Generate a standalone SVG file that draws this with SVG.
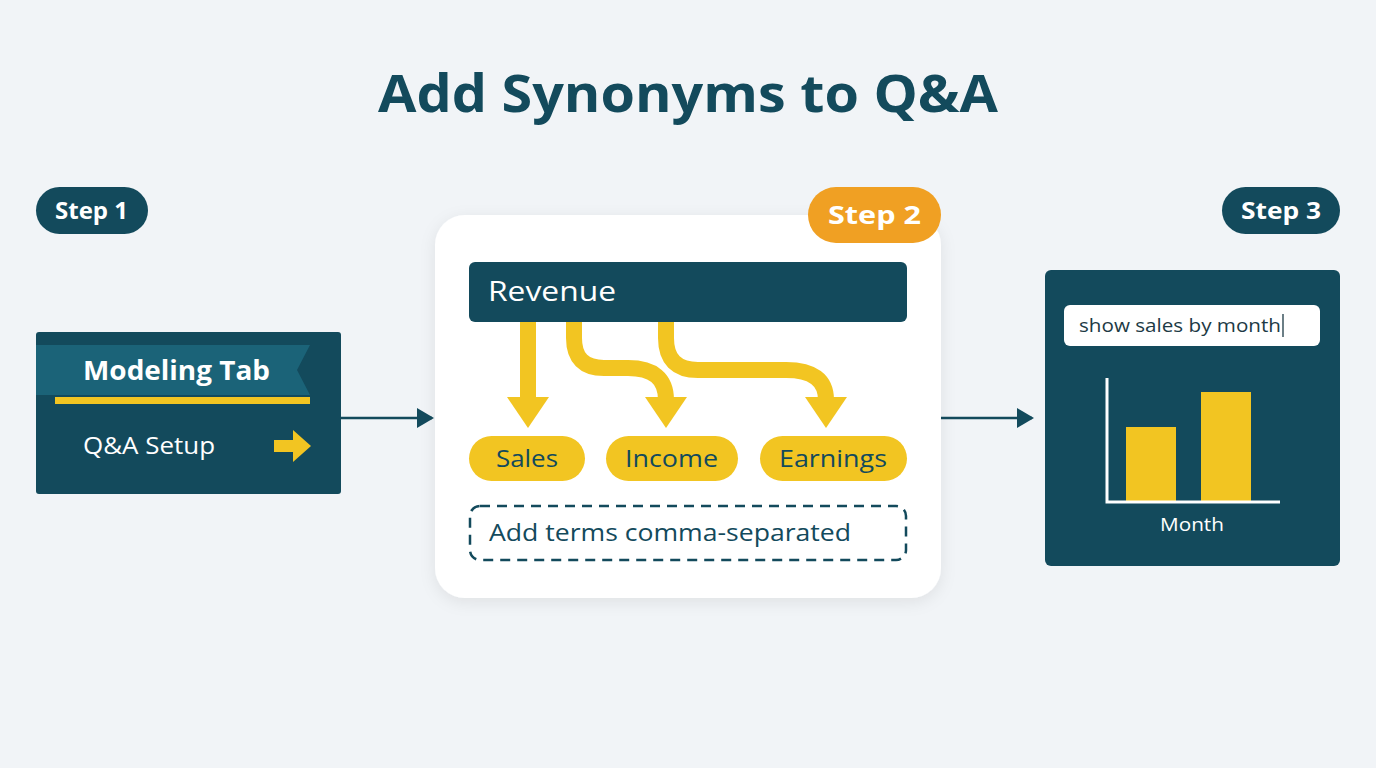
<svg xmlns="http://www.w3.org/2000/svg" width="1376" height="768" viewBox="0 0 1376 768">
<defs>
<style>
.t{font-family:"Open Sans","Noto Sans","Liberation Sans",sans-serif}
.b{font-weight:700}
.teal{fill:#134a5c}
.wt{fill:#ffffff}
.yel{fill:#f2c522}
.ya{fill:none;stroke:#f2c522;stroke-width:16}
.conn{stroke:#134a5c;stroke-width:2.5;fill:none}
</style>
<marker id="ah" markerWidth="17" markerHeight="20" refX="15" refY="10" orient="auto" markerUnits="userSpaceOnUse" viewBox="0 0 17 20">
<path d="M0,0 L17,10 L0,20 Z" fill="#134a5c"/>
</marker>
<filter id="sh" x="-10%" y="-10%" width="120%" height="130%">
<feDropShadow dx="0" dy="4" stdDeviation="8" flood-color="#000" flood-opacity="0.08"/>
</filter>
</defs>
<rect width="1376" height="768" fill="#f1f4f7"/>
<text id="title" class="t b teal" x="378" y="112" font-size="52" textLength="620" lengthAdjust="spacingAndGlyphs">Add Synonyms to Q&amp;A</text>

<g id="connectors">
<line class="conn" x1="341" y1="418" x2="432" y2="418" marker-end="url(#ah)"/>
<line class="conn" x1="941" y1="418" x2="1032" y2="418" marker-end="url(#ah)"/>
</g>

<g id="step1">
<rect x="36" y="187" width="112" height="47" rx="23.5" class="teal"/>
<text class="t b wt" x="55" y="219" font-size="23" textLength="73" lengthAdjust="spacingAndGlyphs">Step 1</text>
</g>

<g id="modeling-tab">
<rect x="36" y="332" width="305" height="162" rx="3" class="teal"/>
<path d="M36,345 H310 L297,370 L310,395 H36 Z" fill="#1b6378"/>
<rect x="55" y="397" width="255" height="7" class="yel"/>
<text class="t b wt" x="83" y="380" font-size="26" textLength="187" lengthAdjust="spacingAndGlyphs">Modeling Tab</text>
<text class="t wt" x="83" y="454" font-size="24" textLength="132" lengthAdjust="spacingAndGlyphs">Q&amp;A Setup</text>
<path d="M274,440 H293 V430 L311,446 L293,462 V452 H274 Z" class="yel"/>
</g>

<g id="step2-card">
<rect x="435" y="215" width="506" height="383" rx="30" fill="#ffffff" filter="url(#sh)"/>
<rect x="469" y="262" width="438" height="60" rx="6" class="teal"/>
<text class="t wt" x="488" y="301" font-size="27" textLength="128" lengthAdjust="spacingAndGlyphs">Revenue</text>
<g id="syn-arrows">
<path class="ya" d="M528,322 V400"/>
<path d="M507,397 H549 L528,428 Z" class="yel"/>
<path class="ya" d="M574,322 V338 Q574,368 604,368 H628 Q666,368 666,400"/>
<path d="M645,397 H687 L666,428 Z" class="yel"/>
<path class="ya" d="M666,322 V338 Q666,370 698,370 H786 Q826,370 826,400"/>
<path d="M805,397 H847 L826,428 Z" class="yel"/>
</g>
<g id="sales"><rect x="469" y="436" width="116" height="45" rx="22.5" class="yel"/><text class="t teal" x="496" y="467" font-size="24" textLength="62" lengthAdjust="spacingAndGlyphs">Sales</text></g>
<g id="income"><rect x="606" y="436" width="132" height="45" rx="22.5" class="yel"/><text class="t teal" x="625" y="467" font-size="24" textLength="93" lengthAdjust="spacingAndGlyphs">Income</text></g>
<g id="earnings"><rect x="760" y="436" width="147" height="45" rx="22.5" class="yel"/><text class="t teal" x="779" y="467" font-size="24" textLength="108" lengthAdjust="spacingAndGlyphs">Earnings</text></g>
<g id="add-terms">
<rect x="470" y="506" width="436" height="54" rx="10" fill="none" stroke="#134a5c" stroke-width="2.5" stroke-dasharray="10 7"/>
<text class="t teal" x="489" y="541" font-size="24" textLength="362" lengthAdjust="spacingAndGlyphs">Add terms comma-separated</text>
</g>
</g>

<g id="step2">
<rect x="808" y="187" width="133" height="56" rx="28" fill="#f0a023"/>
<text class="t b wt" x="828" y="224" font-size="25" textLength="93" lengthAdjust="spacingAndGlyphs">Step 2</text>
</g>

<g id="step3">
<rect x="1222" y="187" width="118" height="47" rx="23.5" class="teal"/>
<text class="t b wt" x="1241" y="219" font-size="23" textLength="80" lengthAdjust="spacingAndGlyphs">Step 3</text>
</g>

<g id="qa-result">
<rect x="1045" y="270" width="295" height="296" rx="6" class="teal"/>
<rect x="1064" y="305" width="256" height="41" rx="6" fill="#ffffff"/>
<text class="t" x="1079" y="332" font-size="19" fill="#1d3a45" textLength="202" lengthAdjust="spacingAndGlyphs">show sales by month</text>
<line x1="1283" y1="314" x2="1283" y2="337" stroke="#1d3a45" stroke-width="1.3"/>
<rect x="1126" y="427" width="50" height="75" class="yel"/>
<rect x="1201" y="392" width="50" height="110" class="yel"/>
<path d="M1107,378 V502 H1280" fill="none" stroke="#ffffff" stroke-width="3"/>
<text class="t wt" x="1160" y="531" font-size="19" textLength="64" lengthAdjust="spacingAndGlyphs">Month</text>
</g>
</svg>
